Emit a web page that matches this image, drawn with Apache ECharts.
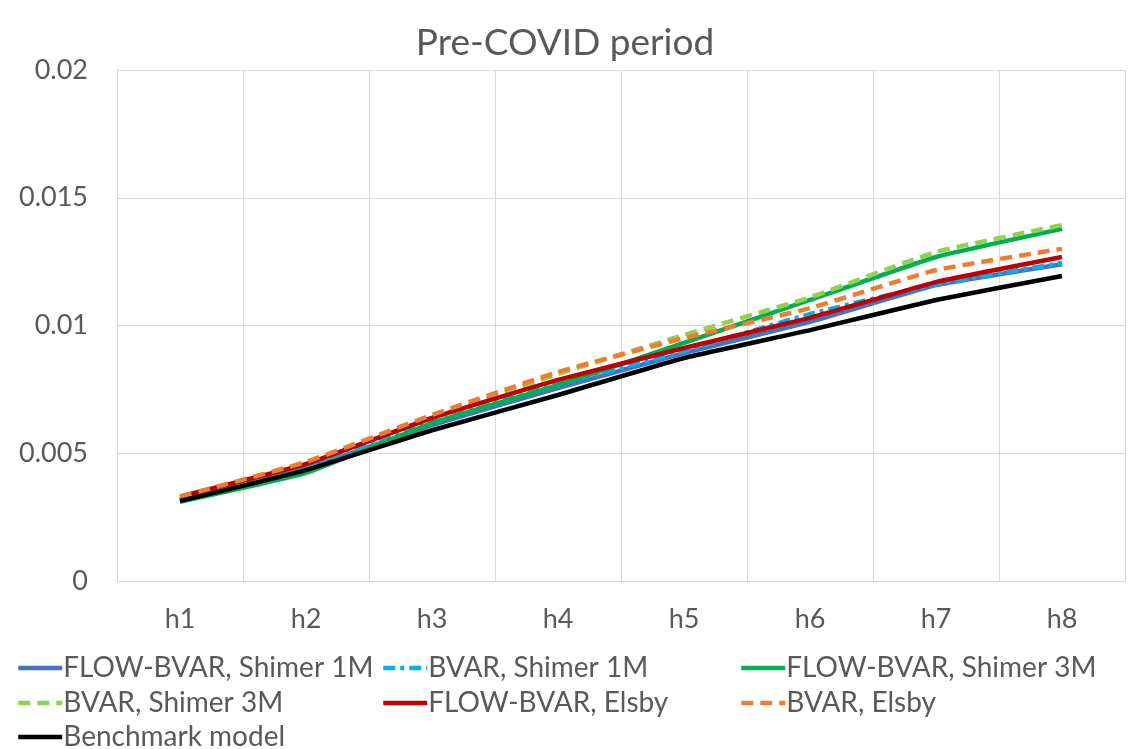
<!DOCTYPE html>
<html>
<head>
<meta charset="utf-8">
<script src="https://cdn.jsdelivr.net/npm/echarts@6/dist/echarts.min.js"></script>
<style>
  html, body { margin: 0; padding: 0; background: #fff; }
  #chart { width: 1130px; height: 749px; }
</style>
</head>
<body>
<div id="chart"></div>
<script>
// horizons
const horizons = ['h1', 'h2', 'h3', 'h4', 'h5', 'h6', 'h7', 'h8']

// series values
const flowShimer1M = [0.0032, 0.0044, 0.0061, 0.00755, 0.00892, 0.01014, 0.01158, 0.0124]
const bvarShimer1M = [0.0032, 0.0045, 0.0062, 0.0077, 0.0090, 0.01045, 0.01162, 0.01245]
const flowShimer3M = [0.0031, 0.00423, 0.00618, 0.00767, 0.00932, 0.0110, 0.01268, 0.01378]
const bvarShimer3M = [0.0032, 0.0046, 0.0064, 0.0081, 0.00963, 0.0111, 0.01288, 0.01393]
const flowElsby = [0.0033, 0.00458, 0.00638, 0.00787, 0.00912, 0.0103, 0.0117, 0.01268]
const bvarElsby = [0.0033, 0.00466, 0.0065, 0.00818, 0.00951, 0.01068, 0.01217, 0.0130]
const benchmark = [0.00313, 0.00434, 0.0059, 0.00728, 0.00873, 0.00982, 0.0110, 0.01194]

const yTicks = [0, 0.005, 0.01, 0.015, 0.02]

const chart = echarts.init(document.getElementById('chart'))

const txt = '#595959'
const font = 'Lato'

const mk = (name, data, color, type) => ({
  name: name,
  type: 'line',
  data: data,
  smooth: 0.12,
  symbol: 'none',
  lineStyle: {color: color, width: 4.5, type: type, cap: 'butt'},
  itemStyle: {color: color}
})

const series = [
  mk('FLOW-BVAR, Shimer 1M', flowShimer1M, '#4472C4', 'solid'),
  mk('BVAR, Shimer 1M', bvarShimer1M, '#00B0F0', [12, 5, 4, 5]),
  mk('FLOW-BVAR, Shimer 3M', flowShimer3M, '#00B050', 'solid'),
  mk('BVAR, Shimer 3M', bvarShimer3M, '#92D050', [12, 7]),
  mk('FLOW-BVAR, Elsby', flowElsby, '#C00000', 'solid'),
  mk('BVAR, Elsby', bvarElsby, '#ED7D31', [12, 7]),
  mk('Benchmark model', benchmark, '#000000', 'solid')
]

// legend: one entry per slot, three columns like the original
const rows = [654, 689, 723]
const cols = [16, 381, 739]
const slots = [[0, 0], [0, 1], [0, 2], [1, 0], [1, 1], [1, 2], [2, 0]]
const legends = series.map((s, i) => ({
  data: [s.name],
  top: rows[slots[i][0]],
  left: cols[slots[i][1]],
  padding: 0,
  itemWidth: 44,
  itemHeight: 14,
  itemStyle: {opacity: 0},
  lineStyle: {width: 4.5, color: 'inherit', type: 'inherit'},
  textStyle: {color: txt, fontSize: 28, fontFamily: font, padding: [0, 0, 0, -4]}
}))

const option = {
  backgroundColor: '#fff',
  animation: false,
  title: {
    text: 'Pre-COVID period',
    left: 'center',
    top: 20,
    textStyle: {color: txt, fontSize: 37, fontWeight: 'normal', fontFamily: font}
  },
  legend: legends,
  grid: {left: 117, right: 5, top: 70, bottom: 168, containLabel: false},
  xAxis: {
    type: 'category',
    data: horizons,
    boundaryGap: true,
    axisLine: {show: true, lineStyle: {color: '#d9d9d9', width: 1}},
    axisTick: {show: false},
    axisLabel: {color: txt, fontSize: 27, fontFamily: font, margin: 25},
    splitLine: {show: true, lineStyle: {color: '#d9d9d9', width: 1}}
  },
  yAxis: {
    type: 'value',
    min: yTicks[0],
    max: yTicks[yTicks.length - 1],
    interval: 0.005,
    axisLine: {show: true, lineStyle: {color: '#d9d9d9', width: 1}},
    axisTick: {show: false},
    axisLabel: {color: txt, fontSize: 27, fontFamily: font, margin: 29},
    splitLine: {show: true, lineStyle: {color: '#d9d9d9', width: 1}}
  },
  series: series
}

chart.setOption(option)
</script>
</body>
</html>
